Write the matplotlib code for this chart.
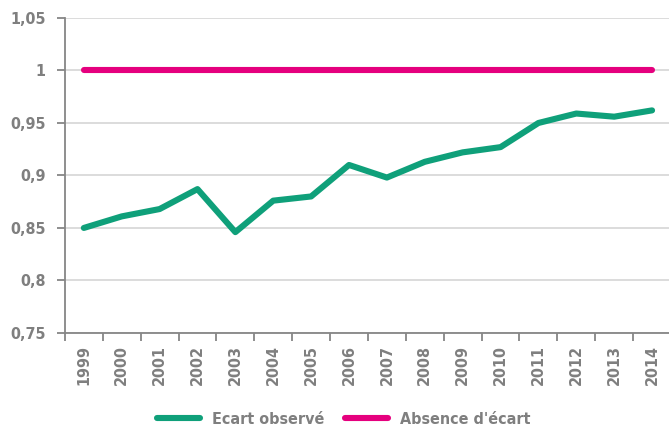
import matplotlib.pyplot as plt
from matplotlib.lines import Line2D

years = ['1999', '2000', '2001', '2002', '2003', '2004', '2005', '2006',
         '2007', '2008', '2009', '2010', '2011', '2012', '2013', '2014']
ecart = [0.850, 0.861, 0.868, 0.887, 0.846, 0.876, 0.880, 0.910,
         0.898, 0.913, 0.922, 0.927, 0.950, 0.959, 0.956, 0.962]
absence = [1.0] * len(years)
yticks = [0.75, 0.80, 0.85, 0.90, 0.95, 1.00, 1.05]
ylabels = ['0,75', '0,8', '0,85', '0,9', '0,95', '1', '1,05']

green = '#0fa07a'
pink = '#e5007e'
grey = '#7f7f7f'

plt.rcParams['font.family'] = ['DejaVu Sans']
plt.rcParams['font.stretch'] = 'condensed'
plt.rcParams['font.weight'] = 'bold'

fig = plt.figure(figsize=(6.69, 4.29), dpi=100)
ax = fig.add_axes([0.097, 0.224, 0.906, 0.734])

x = list(range(len(years)))
ax.plot(x, ecart, color=green, lw=4.4, solid_capstyle='round', solid_joinstyle='round', zorder=3)
ax.plot(x, absence, color=pink, lw=4.4, solid_capstyle='round', zorder=3)

ax.set_xlim(-0.5, len(years) - 0.5)
ax.set_ylim(0.75, 1.05)
ax.set_yticks(yticks)
ax.set_yticklabels(ylabels)
ax.set_xticks(x)
ax.set_xticklabels(years, rotation=90)
ax.set_xticks([i - 0.5 for i in range(len(years) + 1)], minor=True)
ax.tick_params(axis='x', which='major', length=0, pad=9)
ax.tick_params(axis='x', which='minor', length=6, color='#868686', width=1.3)
ax.tick_params(axis='y', length=6, color='#868686', width=1.3, pad=8)
for lab in ax.get_xticklabels() + ax.get_yticklabels():
    lab.set_fontsize(11.5)
    lab.set_fontweight('bold')
    lab.set_fontstretch('condensed')
    lab.set_color(grey)

ax.grid(axis='y', color='#d9d9d9', lw=1.3)
ax.set_axisbelow(True)
for s in ['top', 'right']:
    ax.spines[s].set_visible(False)
for s in ['left', 'bottom']:
    ax.spines[s].set_color('#868686')
    ax.spines[s].set_linewidth(1.3)

handles = [Line2D([], [], color=green, lw=4.4, solid_capstyle='round'),
           Line2D([], [], color=pink, lw=4.4, solid_capstyle='round')]
leg = fig.legend(handles, ['Ecart observé', "Absence d'écart"], loc='center',
                 bbox_to_anchor=(0.514, 0.023), ncol=2, frameon=False,
                 handlelength=2.7, handletextpad=0.75, columnspacing=1.3,
                 prop={'size': 11.5, 'weight': 'bold', 'stretch': 'condensed'})
for t in leg.get_texts():
    t.set_color(grey)

fig.savefig('out.png', dpi=100)
